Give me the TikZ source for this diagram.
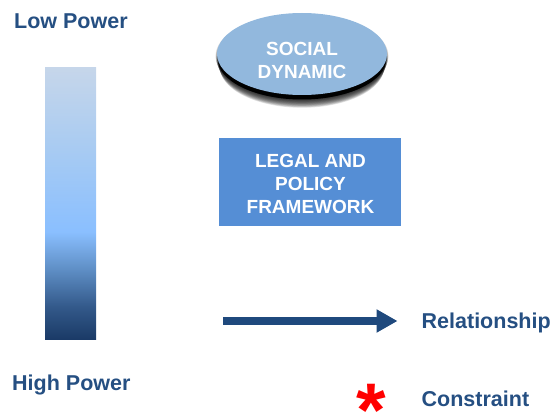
\documentclass[tikz,border=0pt]{standalone}
\usepackage{fontspec}
\setmainfont{Liberation Sans}
\usetikzlibrary{arrows.meta,shapes.geometric}
\definecolor{navy}{HTML}{1F497D}
\definecolor{labelblue}{HTML}{254F82}
\definecolor{ellfill}{HTML}{92B8DD}
\definecolor{boxfill}{HTML}{558ED5}
\definecolor{barA}{HTML}{1A3A66}
\definecolor{barB}{HTML}{33598A}
\definecolor{barC}{HTML}{5F8FC6}
\definecolor{barD}{HTML}{8ABFFF}
\definecolor{barE}{HTML}{A8CBF2}
\definecolor{barF}{HTML}{C6D6EA}
\pgfdeclareverticalshading{barfill}{100bp}{
  color(0bp)=(barA); color(25bp)=(barA); color(31bp)=(barB); color(38bp)=(barC);
  color(44.8bp)=(barD); color(60bp)=(barE); color(75bp)=(barF); color(100bp)=(barF)}
\tikzset{
  x=1pt, y=-1pt,
  legendtext/.style={font=\fontsize{21.5}{24}\selectfont\bfseries, text=labelblue, inner sep=0pt, anchor=west},
  boxtext/.style={font=\fontsize{19}{23}\selectfont\bfseries, text=white, align=center},
}
\begin{document}
\begin{tikzpicture}
\useasboundingbox (0,0) rectangle (552,412);
\node[legendtext] (low) at (14,21.5) {Low Power};
\node[legendtext] (high) at (12,385) {High Power};
\node[shading=barfill, minimum width=51pt, minimum height=272pt, inner sep=0pt, outer sep=0pt] (bar) at (70.5,203.5) {};
% soft shadow of the ellipse
\foreach \i in {0,...,15}{
  \fill[black, opacity=0.11] (302,{56+\i*0.75}) ellipse ({86.5-\i*0.3} and {42-\i*0.1});
}
\fill[black] (302,58.5) ellipse (84.5 and 41);
\node[ellipse, fill=ellfill, minimum width=170pt, minimum height=82pt, inner sep=0pt, boxtext] (social) at (302,54) {};
\node[boxtext] (socialtext) at (302,60) {SOCIAL\\DYNAMIC};
\node[fill=boxfill, minimum width=182pt, minimum height=88pt, inner sep=0pt, boxtext] (legal) at (310,182) {};
\node[boxtext] (legaltext) at (310.5,183.5) {LEGAL AND\\POLICY\\FRAMEWORK};
\coordinate (astart) at (223,321);
\coordinate (aend) at (397.5,321);
\draw[navy, line width=8pt, -{Triangle[length=21pt,width=22pt]}] (astart) -- (aend);
\node[legendtext] (rel) at (421.5,322.5) {Relationship};
\node[legendtext] (con) at (421.5,398.5) {Constraint};
\node[font=\fontsize{76}{76}\selectfont\bfseries, text=red, inner sep=0pt] (star) at (371,410) {*};
\end{tikzpicture}
\end{document}
